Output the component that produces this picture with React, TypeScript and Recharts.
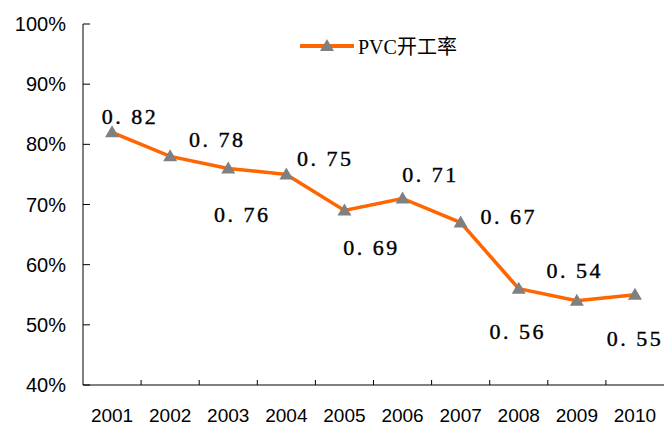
import { LineChart, Line, XAxis, YAxis, LabelList } from "recharts";

const years = ["2001", "2002", "2003", "2004", "2005", "2006", "2007", "2008", "2009", "2010"];
const rates = [0.82, 0.78, 0.76, 0.75, 0.69, 0.71, 0.67, 0.56, 0.54, 0.55];
const yTicks = [0.4, 0.5, 0.6, 0.7, 0.8, 0.9, 1.0];

// where each value label sits relative to its point
const labelOffsets = [
  [18, -16], [47, -17], [14, 46], [39, -16], [27, 37],
  [28, -24], [48, -6], [-1, 43], [-2, -30], [0, 44],
];

const data = years.map((year, i) => ({ year, rate: rates[i] }));

const W = 664;
const H = 425;
const LEFT = 83;
const BAND = (W - LEFT) / years.length;

const Triangle = (props: any) => {
  const { cx, cy } = props;
  if (cx == null || cy == null) return null;
  return <polygon points={`${cx},${cy - 7} ${cx - 7},${cy + 5} ${cx + 7},${cy + 5}`} fill="#808080" />;
};

const XTick = (props: any) => {
  const { x, y, payload } = props;
  const bx = x - BAND / 2;
  return (
    <g>
      {payload.index > 0 && <line x1={bx} y1={y} x2={bx} y2={y - 5} stroke="#000" />}
      <text x={x} y={y + 37} textAnchor="middle" fontSize={19} fontFamily="Liberation Sans, Arial" fill="#000">
        {payload.value}
      </text>
    </g>
  );
};

const ValueLabel = (props: any) => {
  const { x, y, value, index } = props;
  const [dx, dy] = labelOffsets[index];
  return (
    <text
      x={x + dx}
      y={y + dy}
      textAnchor="middle"
      dominantBaseline="central"
      fontSize={22}
      letterSpacing={2.5}
      fontFamily="Liberation Serif, serif"
      fill="#000"
      stroke="#000"
      strokeWidth={0.4}
    >
      {Number(value).toFixed(2).replace(".", ". ")}
    </text>
  );
};

export default function App() {
  return (
    <div style={{ position: "absolute", left: 0, top: 0, width: W, height: H, background: "#fff" }}>
      <LineChart width={W} height={H} data={data} margin={{ top: 24, right: 0, bottom: 0, left: 0 }}>
        <XAxis
          dataKey="year"
          tick={<XTick />}
          tickLine={false}
          tickSize={0}
          tickMargin={0}
          height={40}
          padding={{ left: BAND / 2, right: BAND / 2 }}
          axisLine={{ stroke: "#000" }}
          interval={0}
        />
        <YAxis
          domain={[0.4, 1.0]}
          ticks={yTicks}
          width={LEFT}
          tickSize={-7}
          tickMargin={24}
          axisLine={{ stroke: "#000" }}
          tickLine={{ stroke: "#000" }}
          tickFormatter={(v: number) => `${Math.round(v * 100)}%`}
          tick={{ fill: "#000", fontSize: 20, fontFamily: "Liberation Sans, Arial" }}
          allowDataOverflow
        />
        <Line
          dataKey="rate"
          stroke="#FF6600"
          strokeWidth={3.5}
          dot={<Triangle />}
          activeDot={false}
          isAnimationActive={false}
        >
          <LabelList dataKey="rate" content={<ValueLabel />} />
        </Line>
      </LineChart>
      <div style={{ position: "absolute", left: 298, top: 31, display: "flex", alignItems: "center" }}>
        <svg width={58} height={20}>
          <line x1={2} y1={10} x2={56} y2={10} stroke="#FF6600" strokeWidth={4} />
          <polygon points="29,3 22,15 36,15" fill="#808080" />
        </svg>
        <span style={{ fontFamily: "Liberation Serif, 'Noto Sans CJK SC', serif", fontSize: 20, marginLeft: 2 }}>
          PVC开工率
        </span>
      </div>
    </div>
  );
}
